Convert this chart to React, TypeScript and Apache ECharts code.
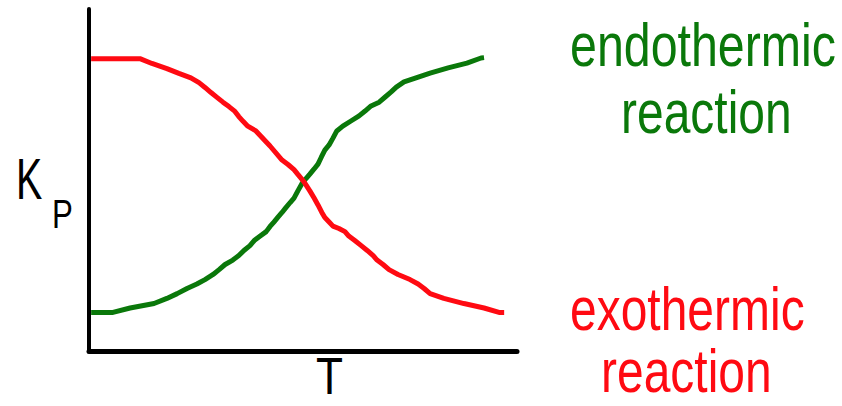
import React, { useEffect, useRef } from "react";
import * as echarts from "echarts";

// Temperature (T) on a 0–100 scale, equilibrium constant Kp on a 0–100 scale
const exothermicT = [0.5, 11.9, 14.7, 18.2, 21.0, 23.8, 25.7, 27.1, 28.5, 29.9, 31.3, 32.7, 34.1, 35.0, 36.0, 37.1, 39.0, 42.3, 45.1, 46.5, 47.9, 48.8, 50.2, 51.6, 52.6, 53.5, 54.4, 55.1, 56.1, 57.0, 58.4, 59.8, 60.7, 62.1, 63.6, 65.0, 66.4, 67.3, 68.7, 70.1, 72.2, 75.0, 76.9, 78.3, 79.7, 82.9, 87.6, 92.3, 95.8, 97.0];
const exothermicKp = [85.5, 85.5, 84.1, 82.6, 81.2, 79.9, 78.5, 77.1, 75.6, 74.2, 72.8, 71.5, 70.1, 68.6, 67.2, 65.8, 64.4, 60.0, 55.9, 54.6, 53.1, 51.7, 49.6, 46.9, 44.8, 42.8, 40.6, 39.1, 37.8, 36.6, 35.9, 35.0, 33.7, 32.4, 30.9, 29.5, 28.0, 26.7, 25.4, 23.9, 22.5, 21.0, 19.7, 18.4, 16.9, 15.5, 14.0, 12.7, 11.4, 11.4];

const endothermicT = [0.5, 5.6, 9.6, 15.2, 18.2, 20.6, 22.9, 25.2, 27.1, 29.0, 30.4, 31.8, 33.6, 35.0, 36.2, 37.6, 38.6, 40.0, 41.4, 42.3, 43.2, 44.2, 45.1, 46.0, 47.0, 47.9, 48.8, 49.8, 50.7, 51.6, 52.6, 53.5, 54.3, 55.1, 56.1, 57.0, 57.9, 59.3, 61.2, 63.1, 64.5, 65.9, 67.8, 69.2, 70.6, 71.8, 73.6, 76.4, 79.7, 83.9, 88.3, 91.6, 92.3];
const endothermicKp = [11.4, 11.4, 12.7, 14.0, 15.5, 16.9, 18.4, 19.7, 21.0, 22.5, 23.9, 25.4, 26.7, 28.0, 29.5, 30.9, 32.4, 33.7, 35.0, 36.5, 37.8, 39.3, 40.6, 42.0, 43.5, 44.8, 46.9, 49.1, 50.5, 51.8, 53.3, 54.7, 56.8, 58.8, 60.3, 62.3, 64.4, 65.8, 67.3, 68.8, 70.2, 71.7, 72.8, 74.3, 75.8, 77.2, 78.7, 79.9, 81.3, 82.8, 84.2, 85.7, 85.8];

const GREEN = "#0a780a";
const RED = "#ff0a12";
const FONT = "'Liberation Sans', Arial, sans-serif";

const pairs = (xs: number[], ys: number[]) => xs.map((x, i) => [x, ys[i]]);

// Text label whose anchor sits at its vertical middle; narrowed horizontally
const label = (
  text: string,
  x: number,
  y: number,
  size: number,
  color: string,
  scaleX: number,
  align: string = "left"
) => ({
  type: "text",
  x,
  y,
  scaleX,
  silent: true,
  style: {
    x: 0,
    y: 0,
    text,
    fill: color,
    fontSize: size,
    fontFamily: FONT,
    textAlign: align,
    align,
    textVerticalAlign: "middle",
    verticalAlign: "middle",
  },
});

export default function App() {
  const ref = useRef<HTMLDivElement>(null);

  useEffect(() => {
    if (!ref.current) return;
    const chart = echarts.init(ref.current, undefined, { renderer: "svg" });
    chart.setOption({
      animation: false,
      backgroundColor: "#ffffff",
      grid: { left: 89, right: 325, top: 9, bottom: 54.5 },
      xAxis: {
        type: "value",
        min: 0,
        max: 100,
        axisLine: { show: true, lineStyle: { color: "#000", width: 5 } },
        axisTick: { show: false },
        axisLabel: { show: false },
        splitLine: { show: false },
      },
      yAxis: {
        type: "value",
        min: 0,
        max: 100,
        axisLine: { show: true, lineStyle: { color: "#000", width: 4 } },
        axisTick: { show: false },
        axisLabel: { show: false },
        splitLine: { show: false },
      },
      series: [
        {
          name: "exothermic reaction",
          type: "line",
          data: pairs(exothermicT, exothermicKp),
          showSymbol: false,
          lineStyle: { color: RED, width: 5 },
          z: 3,
        },
        {
          name: "endothermic reaction",
          type: "line",
          data: pairs(endothermicT, endothermicKp),
          showSymbol: false,
          lineStyle: { color: GREEN, width: 5 },
          z: 2,
        },
      ],
      graphic: [
        label("endothermic", 570, 44.5, 62, GREEN, 0.78),
        label("reaction", 621, 111.5, 62, GREEN, 0.774),
        label("exothermic", 570, 308.5, 62, RED, 0.774),
        label("reaction", 601, 371, 62, RED, 0.774),
        label("K", 16, 178.9, 58, "#000", 0.68),
        label("P", 52, 215.1, 40, "#000", 0.78),
        label("T", 329.5, 376, 52, "#000", 0.85, "center"),
      ],
    });
    return () => chart.dispose();
  }, []);

  return (
    <div
      ref={ref}
      style={{ position: "fixed", left: 0, top: 0, width: 842, height: 406, background: "#fff" }}
    />
  );
}
